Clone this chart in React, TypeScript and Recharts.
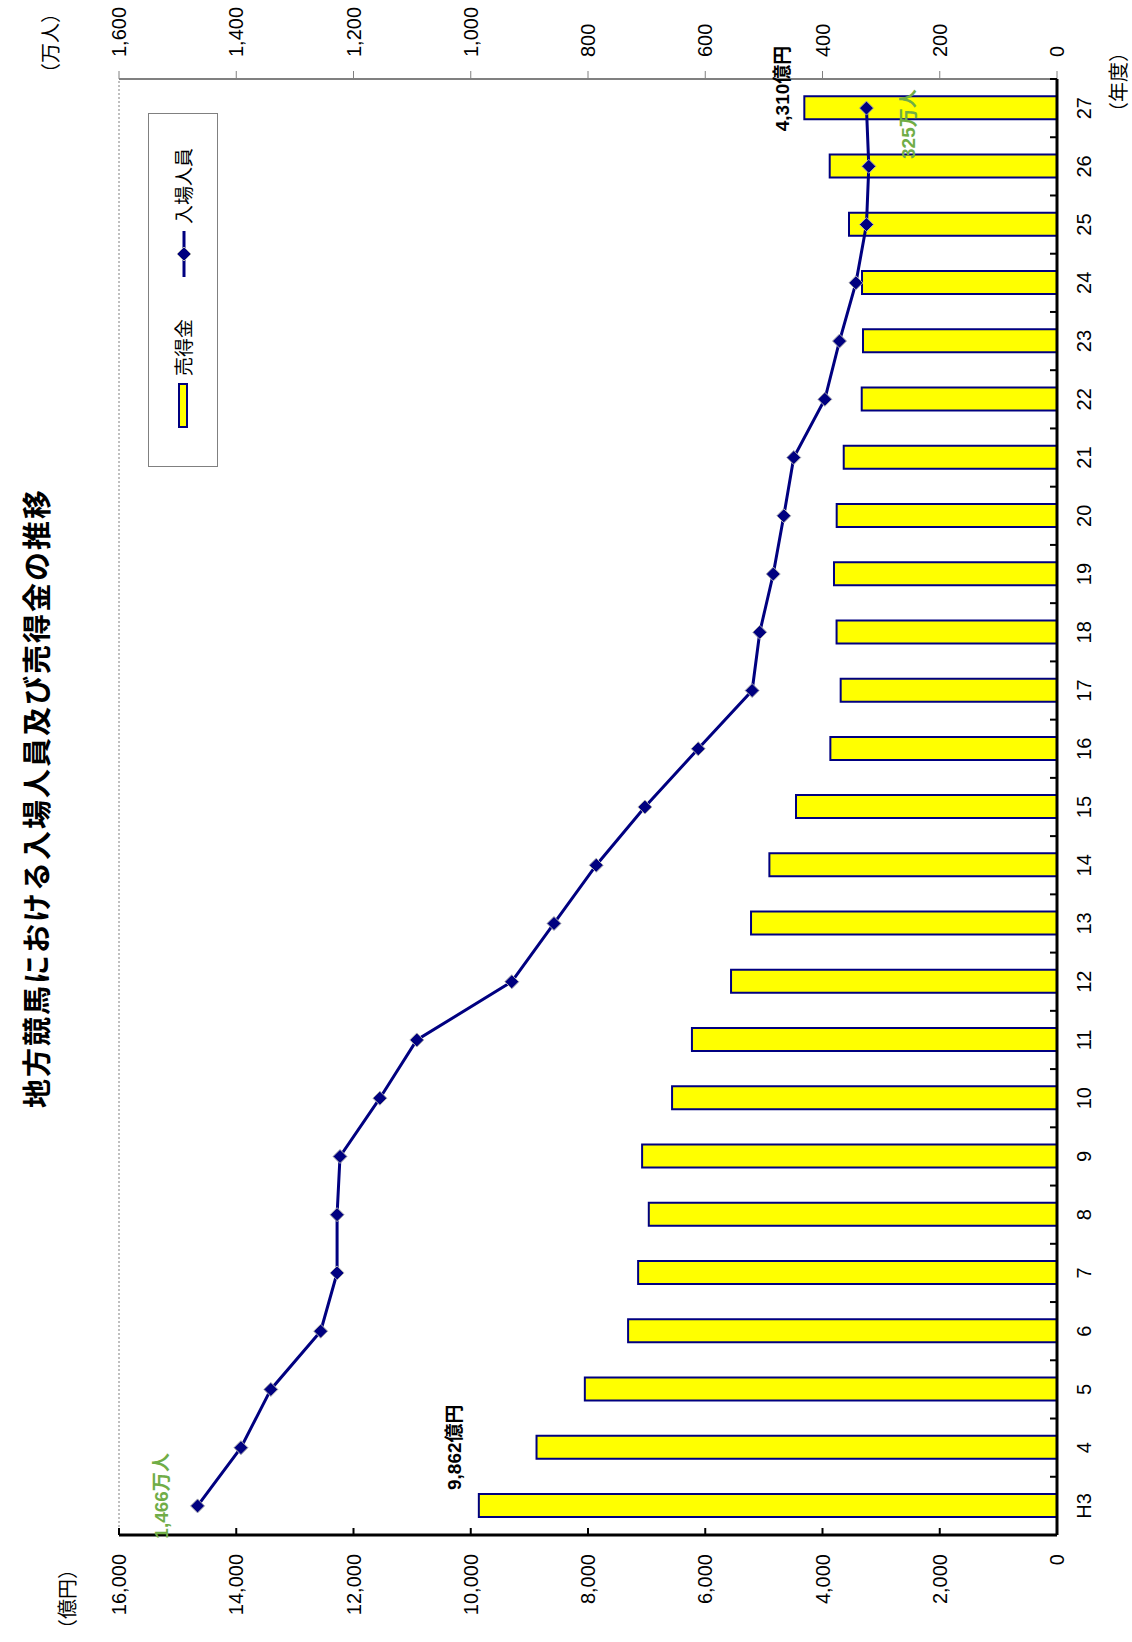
import React from "react";
import {
  ComposedChart,
  Bar,
  Line,
  XAxis,
  YAxis,
  CartesianGrid,
  LabelList,
} from "recharts";

// fiscal years (Heisei)
const years = [
  "H3", "4", "5", "6", "7", "8", "9", "10", "11", "12", "13", "14", "15",
  "16", "17", "18", "19", "20", "21", "22", "23", "24", "25", "26", "27",
];

// 売得金 (億円)
const sales = [
  9862, 8878, 8054, 7316, 7145, 6963, 7077, 6566, 6227, 5560, 5219, 4906,
  4452, 3866, 3690, 3760, 3804, 3758, 3638, 3331, 3309, 3326, 3548, 3877,
  4310,
];

// 入場人員 (万人)
const visitors = [
  1466, 1392, 1341, 1256, 1228, 1228, 1223, 1155, 1092, 930, 858, 786, 703,
  612, 520, 507, 484, 466, 449, 396, 371, 343, 325, 321, 325,
];

const salesTicks = [0, 2000, 4000, 6000, 8000, 10000, 12000, 14000, 16000];
const visitorTicks = [0, 200, 400, 600, 800, 1000, 1200, 1400, 1600];

const data = years.map((year, i) => ({
  year,
  sales: sales[i],
  visitors: visitors[i],
}));

const W = 1642;
const H = 1132;
const PLOT_LEFT = 107;
const PLOT_RIGHT = 1563;
const BAND = (PLOT_RIGHT - PLOT_LEFT) / years.length;
const NUM_FONT = "'Liberation Sans', Arial, 'Noto Sans CJK JP', sans-serif";
const JP_FONT = "'Noto Sans CJK JP', sans-serif";
const NAVY = "#000080";
const GREEN = "#70ad47";

const fmt = (v: number) => v.toLocaleString("en-US");

const LeftTick = (props: any) => {
  const { x, y, payload } = props;
  const axisX = x + 19;
  return (
    <g>
      <line x1={axisX} x2={axisX + 7} y1={y} y2={y} stroke="#000" strokeWidth={2} />
      <text x={x} y={y} dy="0.35em" textAnchor="end" fontSize={20} fontFamily={NUM_FONT} fill="#000">
        {fmt(payload.value)}
      </text>
    </g>
  );
};

const CategoryTick = (props: any) => {
  const { x, y, payload, index } = props;
  const axisY = y - 20;
  const last = index === years.length - 1;
  return (
    <g>
      <line x1={x - BAND / 2} x2={x - BAND / 2} y1={axisY} y2={axisY - 7} stroke="#000" strokeWidth={2} />
      {last && (
        <line x1={x + BAND / 2} x2={x + BAND / 2} y1={axisY} y2={axisY - 7} stroke="#000" strokeWidth={2} />
      )}
      <text x={x} y={y} dy="0.71em" textAnchor="middle" fontSize={20} fontFamily={NUM_FONT} fill="#000">
        {payload.value}
      </text>
    </g>
  );
};

// value callouts on the first and last bar
const SalesLabel = (props: any) => {
  const { x, y, width, index, value } = props;
  if (index === 0) {
    return (
      <text x={x + width + 4} y={y - 24} dy="0.35em" fontSize={19} fontWeight="bold" fontFamily={NUM_FONT} fill="#000">
        {fmt(value)}億円
      </text>
    );
  }
  if (index === years.length - 1) {
    return (
      <text x={x - 12} y={y - 22} dy="0.35em" fontSize={19} fontWeight="bold" fontFamily={NUM_FONT} fill="#000">
        {fmt(value)}億円
      </text>
    );
  }
  return null;
};

const VisitorLabel = (props: any) => {
  const { x, y, index, value } = props;
  if (index === 0) {
    return (
      <text x={x + 10} y={y - 36} dy="0.35em" textAnchor="middle" fontSize={19} fontWeight="bold" fontFamily={NUM_FONT} fill={GREEN}>
        {fmt(value)}万人
      </text>
    );
  }
  if (index === years.length - 1) {
    return (
      <text x={x - 16} y={y + 42} dy="0.35em" textAnchor="middle" fontSize={19} fontWeight="bold" fontFamily={NUM_FONT} fill={GREEN}>
        {fmt(value)}万人
      </text>
    );
  }
  return null;
};

const Diamond = (props: any) => {
  const { cx, cy } = props;
  if (cx == null || cy == null) return null;
  const r = 7;
  return (
    <path
      d={`M${cx},${cy - r}L${cx + r},${cy}L${cx},${cy + r}L${cx - r},${cy}Z`}
      fill={NAVY}
      stroke="#b0b0b0"
      strokeWidth={1}
    />
  );
};

// legend drawn as a plain box so it does not shrink the plot area
const LegendBox = () => (
  <div
    style={{
      position: "absolute",
      left: 1175,
      top: 148,
      width: 354,
      height: 70,
      border: "1px solid #808080",
      boxSizing: "border-box",
      background: "#fff",
      fontFamily: JP_FONT,
      fontSize: 19,
      zIndex: 2,
    }}
  >
    <div style={{ position: "absolute", left: 38, top: 29, width: 45, height: 10, background: "#ffff00", border: `2px solid ${NAVY}`, boxSizing: "border-box" }} />
    <div style={{ position: "absolute", left: 90, top: 20, lineHeight: "28px" }}>売得金</div>
    <svg style={{ position: "absolute", left: 189, top: 25 }} width={46} height={20}>
      <line x1={0} x2={46} y1={10} y2={10} stroke={NAVY} strokeWidth={3} />
      <Diamond cx={23} cy={10} />
    </svg>
    <div style={{ position: "absolute", left: 242, top: 20, lineHeight: "28px" }}>入場人員</div>
  </div>
);

const unitStyle: React.CSSProperties = {
  position: "absolute",
  fontFamily: JP_FONT,
  fontSize: 20,
  lineHeight: "28px",
};

export default function App() {
  return (
    <div style={{ position: "absolute", left: 0, top: 0, width: H, height: W, background: "#fff", overflow: "hidden" }}>
      <div
        style={{
          position: "absolute",
          left: 0,
          top: 0,
          width: W,
          height: H,
          transformOrigin: "0 0",
          transform: `translateY(${W}px) rotate(-90deg)`,
        }}
      >
        <div
          style={{
            position: "absolute",
            left: 0,
            width: W,
            top: 14,
            textAlign: "center",
            paddingLeft: 46,
            boxSizing: "border-box",
            fontFamily: JP_FONT,
            fontWeight: "bold",
            fontSize: 29,
            letterSpacing: 2,
          }}
        >
          地方競馬における入場人員及び売得金の推移
        </div>
        <div style={{ ...unitStyle, left: 3, top: 53 }}>（億円）</div>
        <div style={{ ...unitStyle, left: 1559, top: 36 }}>（万人）</div>
        <div style={{ ...unitStyle, left: 1520, top: 1104 }}>（年度）</div>

        <ComposedChart
          width={W}
          height={H}
          data={data}
          margin={{ top: 119, right: 9, bottom: 35, left: 7 }}
          barCategoryGap="30%"
        >
          <CartesianGrid vertical={false} stroke="#808080" strokeDasharray="2 2" />
          <XAxis
            dataKey="year"
            height={40}
            tickSize={0}
            tickMargin={20}
            interval={0}
            tick={<CategoryTick />}
            axisLine={{ stroke: "#000", strokeWidth: 3 }}
          />
          <YAxis
            yAxisId="sales"
            orientation="left"
            width={100}
            domain={[0, 16000]}
            ticks={salesTicks}
            tickSize={0}
            tickMargin={19}
            tick={<LeftTick />}
            axisLine={{ stroke: "#000", strokeWidth: 3 }}
          />
          <YAxis
            yAxisId="visitors"
            orientation="right"
            width={70}
            domain={[0, 1600]}
            ticks={visitorTicks}
            tickSize={8}
            tickMargin={14}
            tickFormatter={fmt}
            tick={{ fontSize: 20, fontFamily: NUM_FONT, fill: "#000" }}
            tickLine={{ stroke: "#808080" }}
            axisLine={{ stroke: "#808080", strokeWidth: 2 }}
          />
          <Bar
            yAxisId="sales"
            dataKey="sales"
            name="売得金"
            fill="#ffff00"
            stroke={NAVY}
            strokeWidth={2}
            barSize={23}
            isAnimationActive={false}
          >
            <LabelList dataKey="sales" content={<SalesLabel />} />
          </Bar>
          <Line
            yAxisId="visitors"
            dataKey="visitors"
            name="入場人員"
            type="linear"
            stroke={NAVY}
            strokeWidth={3}
            dot={<Diamond />}
            activeDot={false}
            isAnimationActive={false}
          >
            <LabelList dataKey="visitors" content={<VisitorLabel />} />
          </Line>
        </ComposedChart>
        <LegendBox />
      </div>
    </div>
  );
}
